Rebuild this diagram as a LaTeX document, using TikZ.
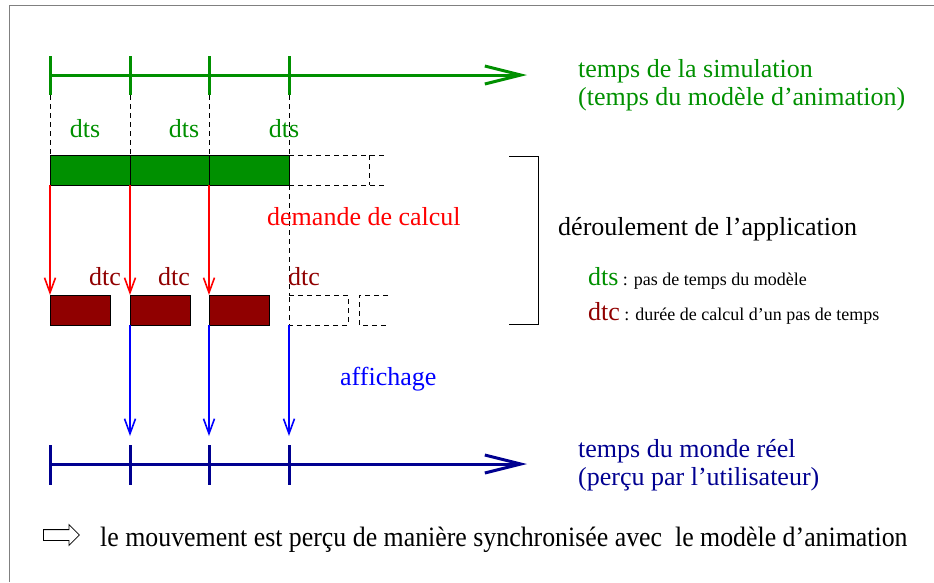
\documentclass[tikz,border=0pt]{standalone}
\usepackage{fontspec}
\setmainfont{Liberation Serif}
\usetikzlibrary{arrows.meta,shapes.arrows}
\definecolor{fgreen}{RGB}{0,144,0}
\definecolor{fdred}{RGB}{144,0,0}
\definecolor{fnavy}{RGB}{0,0,144}
\definecolor{fgray}{RGB}{128,128,128}
\begin{document}
\begin{tikzpicture}[x=1pt,y=-1pt,
  big/.style={font=\fontsize{26}{30}\selectfont, inner sep=0pt, anchor=base west},
  small/.style={font=\fontsize{18}{22}\selectfont, inner sep=0pt, anchor=base west},
  axisarrow/.style={line width=3pt, -{Straight Barb[length=36pt,width=18pt,line width=3pt]}},
  tickline/.style={line width=3pt},
  gbox/.style={draw=black, line width=1pt, fill=fgreen, minimum width=#1, minimum height=30pt, inner sep=0pt, outer sep=0pt, anchor=north west},
  rbox/.style={draw=black, line width=0.8pt, fill=fdred, minimum width=60pt, minimum height=30pt, inner sep=0pt, outer sep=0pt, anchor=north west},
  dashline/.style={draw=black, line width=0.9pt, dash pattern=on 5pt off 4pt},
  callarrow/.style={line width=1.6pt, -{Straight Barb[length=15pt,width=11pt,line width=1.6pt]}},
  lbl/.style={font=\fontsize{26}{30}\selectfont, inner sep=0pt, anchor=base}
]
\useasboundingbox (0,0) rectangle (934,582);
% frame
\draw[fgray, line width=1.8pt] (9.5,582) -- (9.5,5.5) -- (934,5.5);

% top axis (simulation time)
\coordinate (s0) at (50,75);
\coordinate (s1) at (130,75);
\coordinate (s2) at (209,75);
\coordinate (s3) at (289,75);
\coordinate (send) at (527,75);
\draw[axisarrow, fgreen] (s0) -- (send);
\foreach \i in {0,...,3} {
  \draw[tickline, fgreen] ([yshift=19pt]s\i) -- ([yshift=-20pt]s\i);
}
\coordinate (s0b) at (50,95);
\coordinate (s1b) at (130,95);
\coordinate (s2b) at (209,95);
\coordinate (s3b) at (289,95);

% green bar
\node[gbox=80pt] (g1) at (50,155) {};
\node[gbox=79pt] (g2) at (130,155) {};
\node[gbox=80pt] (g3) at (209,155) {};

% dark red boxes
\node[rbox] (r1) at (50,295) {};
\node[rbox] (r2) at (130,295) {};
\node[rbox] (r3) at (209,295) {};

% dashed verticals
\draw[dashline] (s0b) -- (g1.north west);
\draw[dashline] (s1b) -- (g2.north west);
\draw[dashline] (s2b) -- (g3.north west);
\coordinate (d3) at (289,295);
\draw[dashline] (s3b) -- (d3);

% dashed extension of green bar
\coordinate (ge1) at (387,155);
\coordinate (ge2) at (387,185);
\coordinate (gv1) at (369,155);
\coordinate (gv2) at (369,185);
\draw[dashline] (g3.north east) -- (ge1);
\draw[dashline] (g3.south east) -- (ge2);
\draw[dashline] (gv1) -- (gv2);

% dashed extension of red boxes
\coordinate (rd1) at (289,325);
\coordinate (rd2) at (348,295);
\coordinate (rd3) at (348,325);
\coordinate (rd4) at (359,295);
\coordinate (rd5) at (359,325);
\coordinate (rd6) at (388,295);
\coordinate (rd7) at (388,325);
\draw[dashline] (d3) -- (rd2) -- (rd3) -- (rd1) -- cycle;
\draw[dashline] (rd6) -- (rd4) -- (rd5) -- (rd7);

% red arrows (demande de calcul)
\draw[callarrow, red] (g1.south west) -- (r1.north west);
\draw[callarrow, red] (g2.south west) -- (r2.north west);
\draw[callarrow, red] (g3.south west) -- (r3.north west);

% bottom axis (real time)
\coordinate (t0) at (50,464);
\coordinate (t1) at (130,464);
\coordinate (t2) at (209,464);
\coordinate (t3) at (289,464);
\coordinate (tend) at (527,464);
\draw[axisarrow, fnavy] (t0) -- (tend);
\foreach \i in {0,...,3} {
  \draw[tickline, fnavy] ([yshift=19pt]t\i) -- ([yshift=-21pt]t\i);
}

% blue arrows (affichage)
\coordinate (a1) at (130,436);
\coordinate (a2) at (209,436);
\coordinate (a3) at (289,436);
\draw[callarrow, blue] (r2.south west) -- (a1);
\draw[callarrow, blue] (r3.south west) -- (a2);
\draw[callarrow, blue] (rd1) -- (a3);

% bracket
\coordinate (k1) at (509,156);
\coordinate (k2) at (538,156);
\coordinate (k3) at (538,324);
\coordinate (k4) at (509,324);
\draw[black, line width=1pt] (k1) -- (k2) -- (k3) -- (k4);

% labels dts
\node[lbl, text=fgreen] (dts1) at (85,137) {dts};
\node[lbl, text=fgreen] (dts2) at (184,137) {dts};
\node[lbl, text=fgreen] (dts3) at (284,137) {dts};
% labels dtc
\node[lbl, text=fdred] (dtc1) at (105,285) {dtc};
\node[lbl, text=fdred] (dtc2) at (174,285) {dtc};
\node[lbl, text=fdred] (dtc3) at (304,285) {dtc};

\node[big, text=red] (dem) at (267,225) {demande de calcul};
\node[big, text=blue] (aff) at (340,385) {affichage};

\node[big, text=fgreen] (sim1) at (578,77) {temps de la simulation};
\node[big, text=fgreen] (sim2) at (578,105) {(temps du modèle d’animation)};
\node[big, text=fnavy] (real1) at (578,457) {temps du monde réel};
\node[big, text=fnavy] (real2) at (578,485) {(perçu par l’utilisateur)};

\node[big] (der) at (558,235) {déroulement de l’application};
\node[big, text=fgreen] (ldts) at (588,285) {dts};
\node[small] (ldtsx) at ([xshift=4pt]ldts.base east) {: pas de temps du modèle};
\node[big, text=fdred] (ldtc) at (588,320) {dtc};
\node[small] (ldtcx) at ([xshift=4pt]ldtc.base east) {: durée de calcul d’un pas de temps};

% conclusion
\node[single arrow, draw=black, fill=white, line width=0.8pt, minimum height=36pt, minimum width=20pt,
      single arrow head extend=5pt, inner xsep=0pt, inner ysep=5pt, anchor=west] (imp) at (43,535) {};
\node[font=\fontsize{28}{32}\selectfont, inner sep=0pt, anchor=base west] (concl) at (100,546)
  {\scalebox{0.923}[1]{le mouvement est perçu de manière synchronisée avec\ \ le modèle d’animation}};
\end{tikzpicture}
\end{document}
